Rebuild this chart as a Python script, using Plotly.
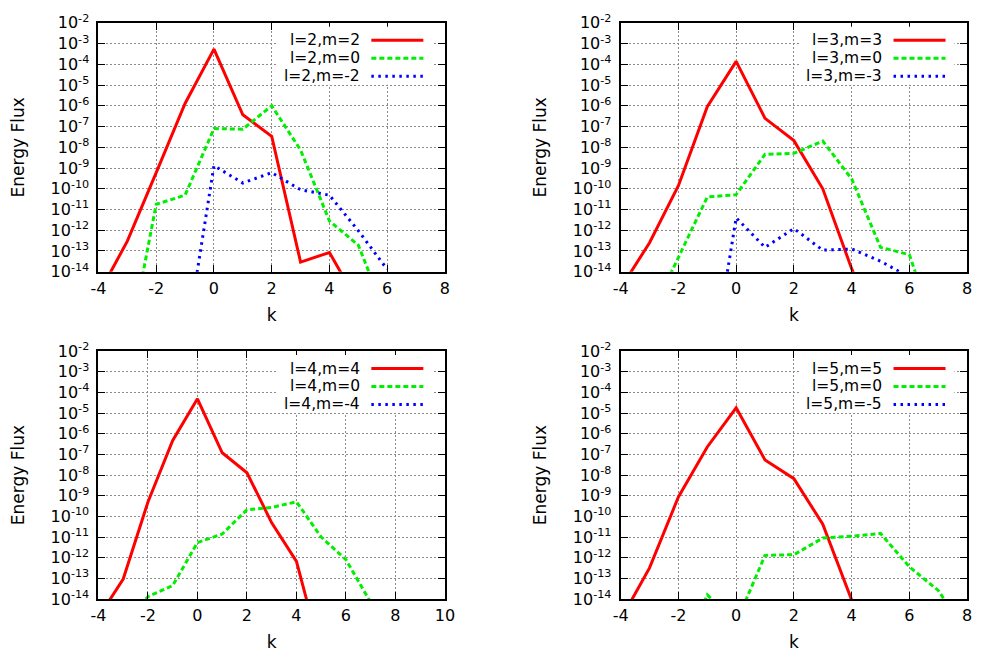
import plotly.graph_objects as go

# ---------------- data ----------------
# panel l=2
k2_red = [-4, -3, -2, -1, 0, 1, 2, 3, 4, 5]
l2_m2 = [8e-16, 3e-13, 6e-10, 1.3e-6, 5.4e-4, 3.7e-7, 3.4e-8, 2.9e-14, 8.5e-14, 3e-16]
k2_green = [-3, -2, -1, 0, 1, 2, 3, 4, 5, 6]
l2_m0 = [1e-18, 1.8e-11, 4.9e-11, 8e-8, 7.5e-8, 1e-6, 7.4e-9, 2.8e-12, 1.9e-13, 6e-17]
k2_blue = [-1, 0, 1, 2, 3, 4, 5, 6]
l2_mm2 = [2e-18, 1.3e-9, 1.9e-10, 6e-10, 9e-11, 4.9e-11, 9.5e-13, 1.3e-14]

# panel l=3
k3_red = [-4, -3, -2, -1, 0, 1, 2, 3, 4, 5]
l3_m3 = [1.6e-15, 2.5e-13, 1.4e-10, 9e-7, 1.4e-4, 2.5e-7, 2.1e-8, 1e-10, 1.4e-14, 1e-17]
k3_green = [-3, -2, -1, 0, 1, 2, 3, 4, 5, 6, 7]
l3_m0 = [6e-17, 5e-14, 4e-11, 5.2e-11, 4.6e-9, 5.1e-9, 2e-8, 3e-10, 1.5e-13, 6.6e-14, 5e-18]
k3_blue = [-1, 0, 1, 2, 3, 4, 5, 6]
l3_mm3 = [1e-20, 4e-12, 1.5e-13, 1.2e-12, 1.1e-13, 1.25e-13, 3.2e-14, 5.5e-15]

# panel l=4
k4_red = [-4, -3, -2, -1, 0, 1, 2, 3, 4, 5]
l4_m4 = [1.3e-15, 9.3e-14, 5e-10, 4.7e-7, 4.9e-5, 1.2e-7, 1.3e-8, 4.9e-11, 6.6e-13, 2e-17]
k4_green = [-3, -2, -1, 0, 1, 2, 3, 4, 5, 6, 7]
l4_m0 = [8e-16, 1.3e-14, 4.5e-14, 5.4e-12, 1.4e-11, 2.1e-10, 2.7e-10, 5.1e-10, 1e-11, 8e-13, 6.8e-15]
k4_blue = []
l4_mm4 = []

# panel l=5
k5_red = [-4, -3, -2, -1, 0, 1, 2, 3, 4, 5]
l5_m5 = [1e-15, 3.2e-13, 8.7e-10, 2.3e-7, 1.8e-5, 5.4e-8, 6.7e-9, 4.2e-11, 9e-15, 1e-17]
k5_green = [-2, -1, 0, 1, 2, 3, 4, 5, 6, 7, 8]
l5_m0 = [1e-17, 1.6e-14, 7e-16, 1.3e-12, 1.4e-12, 9e-12, 1.1e-11, 1.5e-11, 3.6e-13, 2.6e-14, 2e-16]
k5_blue = []
l5_mm5 = []

y_exponents = list(range(-14, -1))
y_tickvals = [10.0 ** e for e in y_exponents]
y_ticktext = ["10<sup>%d</sup>" % e for e in y_exponents]

panels = [
    dict(l=2, xticks=[-4, -2, 0, 2, 4, 6, 8], series=[(k2_red, l2_m2), (k2_green, l2_m0), (k2_blue, l2_mm2)]),
    dict(l=3, xticks=[-4, -2, 0, 2, 4, 6, 8], series=[(k3_red, l3_m3), (k3_green, l3_m0), (k3_blue, l3_mm3)]),
    dict(l=4, xticks=[-4, -2, 0, 2, 4, 6, 8, 10], series=[(k4_red, l4_m4), (k4_green, l4_m0), (k4_blue, l4_mm4)]),
    dict(l=5, xticks=[-4, -2, 0, 2, 4, 6, 8], series=[(k5_red, l5_m5), (k5_green, l5_m0), (k5_blue, l5_mm5)]),
]

# ---------------- styling ----------------
OFF = 8                      # page body margin of the browser
W, H = 985 - OFF, 671 - OFF
FONT = "DejaVu Sans"
colors = ["#ff0000", "#00ee00", "#0000ff"]
dashes = ["solid", "5px,3px", "2.5px,4.5px"]
widths = [3, 3, 3]

# plot-area pixel boxes in the page: (left, top, right, bottom)
boxes = [(92, 12, 445, 269), (624, 12, 977, 269), (92, 351, 445, 607), (624, 351, 977, 607)]

fig = go.Figure()
shapes = []
annotations = []

for i, (p, box) in enumerate(zip(panels, boxes)):
    n = i + 1
    xa = "x" if n == 1 else "x%d" % n
    ya = "y" if n == 1 else "y%d" % n
    left, top, right, bottom = [v - OFF for v in box]
    pw, ph = right - left, bottom - top
    ms = [p["l"], 0, -p["l"]]
    for j, (kk, vv) in enumerate(p["series"]):
        fig.add_trace(go.Scatter(
            x=kk, y=vv, mode="lines", xaxis=xa, yaxis=ya, showlegend=False,
            line=dict(color=colors[j], width=widths[j], dash=dashes[j]),
            name="l=%d,m=%d" % (p["l"], ms[j]),
        ))
    axis_common = dict(
        showline=True, linecolor="black", linewidth=2, mirror="ticks",
        ticks="inside", ticklen=7, tickcolor="black", tickwidth=1,
        showgrid=True, gridcolor="#8c8c8c", gridwidth=1, griddash="2px,2px",
        zeroline=False, tickfont=dict(family=FONT, size=16, color="black"),
        ticklabeloverflow="allow",
    )
    xt = p["xticks"]
    fig.layout["xaxis" if n == 1 else "xaxis%d" % n] = dict(
        axis_common, domain=[left / W, right / W], anchor=ya,
        range=[xt[0], xt[-1]], tickvals=xt, ticktext=[str(v) for v in xt],
        ticklabelstandoff=1,
        title=dict(text="k", font=dict(family=FONT, size=17, color="black"), standoff=12),
    )
    fig.layout["yaxis" if n == 1 else "yaxis%d" % n] = dict(
        axis_common, domain=[1 - bottom / H, 1 - top / H], anchor=xa,
        type="log", range=[-14, -2], tickvals=y_tickvals, ticktext=y_ticktext,
        ticklabelstandoff=4,
        title=dict(text="Energy Flux", font=dict(family=FONT, size=17, color="black"), standoff=22),
    )
    # key (gnuplot style: text on the left, sample on the right)
    xd, yd = xa + " domain", ya + " domain"
    shapes.append(dict(type="rect", xref=xd, yref=yd, layer="above",
                       x0=182 / pw, x1=340 / pw, y0=1 - 64 / ph, y1=1 - 4 / ph,
                       fillcolor="white", line=dict(width=0)))
    for j in range(3):
        yrow = 1 - (18 + 18.5 * j) / ph
        annotations.append(dict(xref=xd, yref=yd, x=268 / pw, y=yrow, xanchor="right",
                                yanchor="middle", showarrow=False,
                                text="l=%d,m=%d" % (p["l"], ms[j]),
                                font=dict(family=FONT, size=15.5, color="black")))
        shapes.append(dict(type="line", xref=xd, yref=yd, layer="above",
                           x0=278 / pw, x1=331 / pw, y0=yrow, y1=yrow,
                           line=dict(color=colors[j], width=widths[j], dash=dashes[j])))

fig.update_layout(
    width=W, height=H, margin=dict(l=0, r=0, t=0, b=0),
    paper_bgcolor="white", plot_bgcolor="white",
    shapes=shapes, annotations=annotations, showlegend=False,
    font=dict(family=FONT, color="black"),
)

fig.write_html("out.html")
